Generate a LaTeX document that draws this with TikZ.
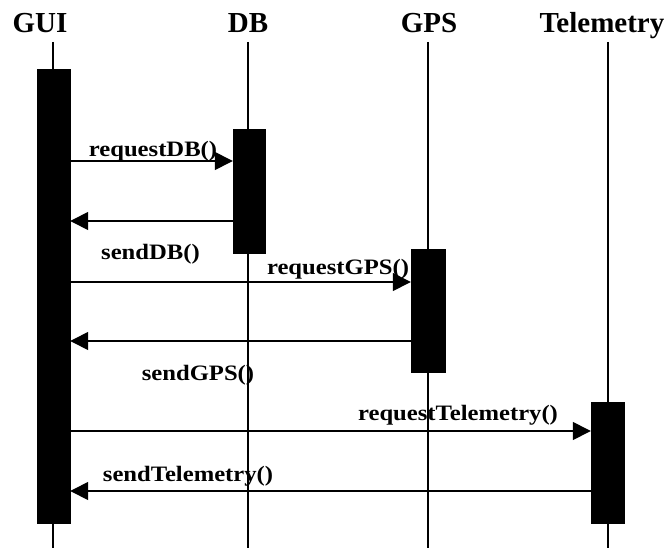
\documentclass[tikz,border=0pt]{standalone}
\usepackage{fontspec}
\setmainfont{Liberation Serif}
\usetikzlibrary{arrows.meta}
\newcommand{\msgtext}[1]{\scalebox{1.12}[1]{#1}}
\begin{document}
\begin{tikzpicture}[x=1pt,y=-1pt,
  title/.style={font=\fontsize{29}{31}\selectfont\bfseries, inner sep=0pt, anchor=base},
  msg/.style={font=\fontsize{22}{24}\selectfont\bfseries, inner sep=0pt, anchor=base},
  life/.style={line width=1.4pt},
  bar/.style={fill=black, draw=black, line width=1pt},
  call/.style={line width=1.4pt, -{Triangle[length=18pt,width=18pt]}}]
\useasboundingbox (0,0) rectangle (671,548);
% titles
\node[title] (tGUI) at (40,33) {GUI};
\node[title] (tDB) at (248,33) {DB};
\node[title] (tGPS) at (429,33) {GPS};
\node[title] (tTel) at (602,33) {Telemetry};
% lifelines
\coordinate (eGUI) at (53,548);
\coordinate (eDB) at (248,548);
\coordinate (eGPS) at (428,548);
\coordinate (eTel) at (608,548);
\coordinate (sGUI) at (53,42);
\coordinate (sDB) at (248,42);
\coordinate (sGPS) at (428,42);
\coordinate (sTel) at (608,42);
\draw[life] (sGUI) -- (eGUI);
\draw[life] (sDB) -- (eDB);
\draw[life] (sGPS) -- (eGPS);
\draw[life] (sTel) -- (eTel);
% activation bars
\path[bar] (37,70) rectangle (70,523);
\node[inner sep=0pt, minimum width=33pt, minimum height=453pt] (aGUI) at (53.5,296.5) {};
\path[bar] (233,130) rectangle (265,253);
\node[inner sep=0pt, minimum width=32pt, minimum height=123pt] (aDB) at (249,191.5) {};
\path[bar] (411,249) rectangle (445,372);
\node[inner sep=0pt, minimum width=34pt, minimum height=123pt] (aGPS) at (428,310.5) {};
\path[bar] (591,402) rectangle (624,523);
\node[inner sep=0pt, minimum width=33pt, minimum height=121pt] (aTel) at (607.5,462.5) {};
% messages
\draw[call] (aGUI.east |- 0,161) -- (aDB.west |- 0,161);
\draw[call] (aDB.west |- 0,221) -- (aGUI.east |- 0,221);
\draw[call] (aGUI.east |- 0,282) -- (aGPS.west |- 0,282);
\draw[call] (aGPS.west |- 0,341) -- (aGUI.east |- 0,341);
\draw[call] (aGUI.east |- 0,431) -- (aTel.west |- 0,431);
\draw[call] (aTel.west |- 0,491) -- (aGUI.east |- 0,491);
% labels
\node[msg] (l1) at (153,157) {\msgtext{requestDB()}};
\node[msg] (l2) at (150.5,259) {\msgtext{sendDB()}};
\node[msg] (l3) at (338,274) {\msgtext{requestGPS()}};
\node[msg] (l4) at (198,380) {\msgtext{sendGPS()}};
\node[msg] (l5) at (458,420) {\msgtext{requestTelemetry()}};
\node[msg] (l6) at (188,481) {\msgtext{sendTelemetry()}};
\end{tikzpicture}
\end{document}
